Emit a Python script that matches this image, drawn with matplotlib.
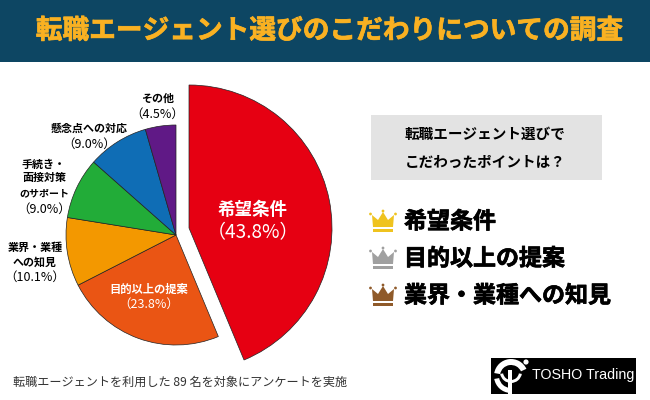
import matplotlib
matplotlib.use('Agg')
import matplotlib.pyplot as plt
import matplotlib.patheffects as pe
from matplotlib.patches import Rectangle, Polygon, Circle, Wedge

plt.rcParams['font.family'] = ['Noto Sans CJK JP', 'DejaVu Sans']

title = '転職エージェント選びのこだわりについての調査'
categories = ['希望条件', '目的以上の提案', '業界・業種への知見', '手続き・面接対策のサポート', '懸念点への対応', 'その他']
shares = [43.8, 23.8, 10.1, 9.0, 9.0, 4.5]
share_labels = ['（43.8%）', '（23.8%）', '（10.1%）', '（9.0%）', '（9.0%）', '（4.5%）']
ranking = ['希望条件', '目的以上の提案', '業界・業種への知見']
question = ['転職エージェント選びで', 'こだわったポイントは？']
note = '転職エージェントを利用した 89 名を対象にアンケートを実施'

H = 400
colors = ['#E60012', '#EA5514', '#F39800', '#22AC38', '#0F6DB5', '#601986']
crown_colors = ['#EFC31F', '#A0A0A0', '#8F5A2A']


def y_(py):
    return H - py


def label(x, py, s, px, color='black', weight='bold', ha='center', thick=0, **kw):
    t = ax.text(x, y_(py), s, fontsize=px * 0.72, color=color, fontweight=weight,
                ha=ha, va='center', **kw)
    if thick:
        t.set_path_effects([pe.withStroke(linewidth=thick, foreground=color)])
    return t


def crown(x, py, color):
    # x, py = left / top corner of a 28x23 px crown
    pts = [(3, 6), (9, 11), (14, 3), (19, 11), (25, 6), (24, 18), (4, 18)]
    ax.add_patch(Polygon([(x + a, y_(py + b)) for a, b in pts], fc=color, ec='none'))
    ax.add_patch(Rectangle((x + 4, y_(py + 23)), 20, 3.5, fc=color, ec='none'))
    for a, b in [(1.5, 5), (14, 2), (26.5, 5)]:
        ax.add_patch(Circle((x + a, y_(py + b)), 1.4, fc=color, ec='none'))


fig = plt.figure(figsize=(6.5, 4), dpi=100)
ax = fig.add_axes([0, 0, 1, 1])

# header
ax.add_patch(Rectangle((0, y_(62)), 650, 62, fc='#0D4663', ec='none'))
label(330, 31, title, 26.7, color='#F9B122', thick=0.5)

# pie, the first slice is pulled out and bigger
wedges, _ = ax.pie(shares, colors=colors, startangle=90, counterclock=False,
                   center=(176, y_(235)), radius=110, frame=True,
                   wedgeprops={'edgecolor': '#222222', 'linewidth': 0.5})
wedges[0].set_center((189, y_(228)))
wedges[0].set_radius(143)

ax.set_xlim(0, 650)
ax.set_ylim(0, 400)
ax.axis('off')

label(253, 210, '希望条件', 17.5, color='white')
label(253, 233, share_labels[0], 19, color='white', weight='normal')
label(149, 289, categories[1], 11.3, color='white')
label(149, 304, share_labels[1], 12.5, color='white', weight='normal')
label(35, 248, '業界・業種', 11)
label(35, 262, 'への知見', 11)
label(35, 277, share_labels[2], 12.5, weight='normal')
label(44, 165, '手続き・', 11)
label(44, 178, '面接対策', 11)
label(44, 193, 'のサポート', 10)
label(44, 209, share_labels[3], 12.5, weight='normal')
label(89, 129, categories[4], 11)
label(89, 144, share_labels[4], 12.5, weight='normal')
label(158, 99, categories[5], 11)
label(157, 114, share_labels[5], 12.5, weight='normal')

# question box
ax.add_patch(Rectangle((371, y_(180)), 231, 65, fc='#E3E3E3', ec='none'))
label(405, 134, question[0], 14.6, ha='left')
label(405, 162, question[1], 14.6, ha='left')

# ranking
for i, (s, py) in enumerate(zip(ranking, [222, 259, 296])):
    crown(369, py - 13, crown_colors[i])
    label(404, py, s, 23, ha='left', thick=0.5)

label(13, 382, note, 12.15, color='#333333', weight='normal', ha='left')

# logo
ax.add_patch(Rectangle((491, y_(394)), 145, 36, fc='black', ec='none'))
ax.add_patch(Wedge((511, y_(376)), 17, 25, 170, width=6, fc='white', ec='none'))
ax.add_patch(Wedge((511, y_(376)), 17, 190, 265, width=5, fc='white', ec='none'))
ax.add_patch(Wedge((511, y_(372)), 11, 190, 350, width=3, fc='white', ec='none'))
ax.add_patch(Rectangle((508, y_(394)), 4, 24, fc='white', ec='none'))
ax.add_patch(Circle((526, y_(362)), 2.6, fc='white', ec='none'))
label(532, 375, 'TOSHO Trading', 14.2, color='white', weight='normal', ha='left',
      family='Liberation Sans')

fig.savefig('out.png', dpi=100)
